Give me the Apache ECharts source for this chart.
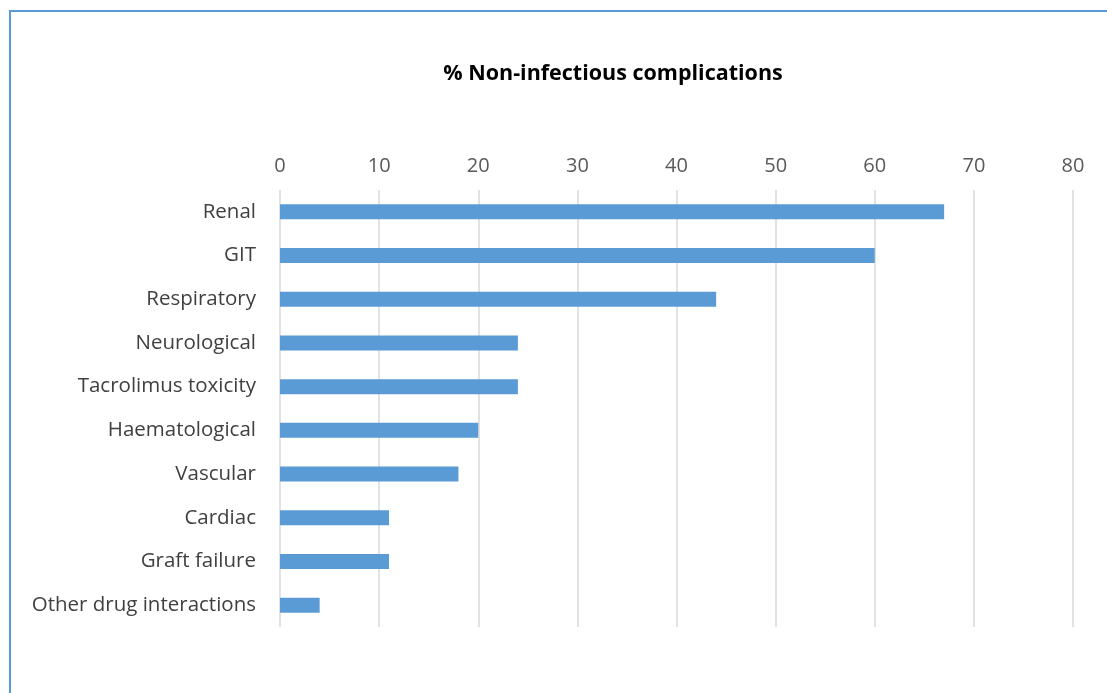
<!DOCTYPE html>
<html>
<head>
<meta charset="utf-8">
<script src="https://cdn.jsdelivr.net/npm/echarts@6/dist/echarts.min.js"></script>
<style>
html,body{margin:0;padding:0;background:#fff;}
#c{width:1107px;height:693px;}
</style>
</head>
<body>
<div id="c"></div>
<script>
const titleText = '% Non-infectious complications';
const categories = ['Renal','GIT','Respiratory','Neurological','Tacrolimus toxicity','Haematological','Vascular','Cardiac','Graft failure','Other drug interactions'];
const values = [67, 60, 44, 24, 24, 20, 18, 11, 11, 4];
const axisMin = 0, axisMax = 80, axisStep = 10;

const chart = echarts.init(document.getElementById('c'));
chart.setOption({
  animation: false,
  backgroundColor: '#fff',
  graphic: [{
    type: 'rect',
    shape: {x: 10, y: 11, width: 1200, height: 800},
    style: {fill: 'none', stroke: '#5b9bd5', lineWidth: 2},
    silent: true
  }],
  title: {
    text: titleText,
    left: 608, top: 58, textAlign: 'center',
    textStyle: {fontFamily: 'Open Sans', fontWeight: 'bold', fontSize: 21.5, color: '#000'}
  },
  grid: {left: 280, right: 34, top: 190, bottom: 66, containLabel: false},
  xAxis: {
    type: 'value', position: 'top',
    min: axisMin, max: axisMax, interval: axisStep,
    axisLine: {show: false}, axisTick: {show: false},
    axisLabel: {color: '#595959', fontFamily: 'Open Sans', fontSize: 20, margin: 14},
    splitLine: {show: true, lineStyle: {color: '#d9d9d9', width: 1.5}}
  },
  yAxis: {
    type: 'category', data: categories, inverse: true,
    axisLine: {show: false}, axisTick: {show: false},
    axisLabel: {color: '#404040', fontFamily: 'Open Sans', fontSize: 20.5, margin: 24, padding: [4, 0, 0, 0]}
  },
  series: [{
    type: 'bar', data: values, barWidth: 15,
    itemStyle: {color: '#5b9bd5'}
  }]
});
</script>
</body>
</html>
